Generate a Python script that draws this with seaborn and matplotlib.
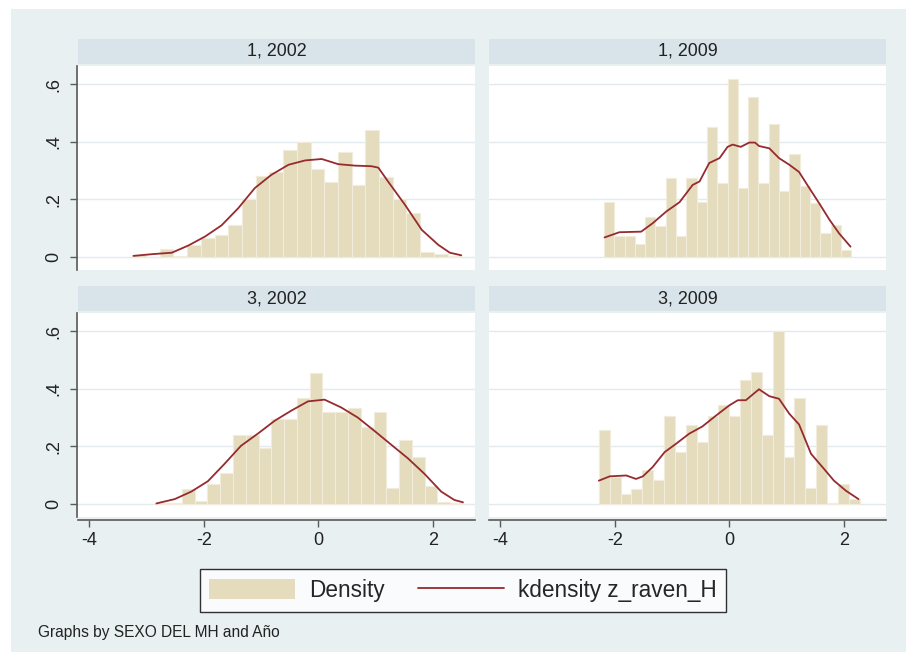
import numpy as np
import pandas as pd
import matplotlib
matplotlib.use("Agg")
import matplotlib.pyplot as plt
import seaborn as sns
from matplotlib.patches import Rectangle, Patch
from matplotlib.lines import Line2D

# ---------------- data ----------------
panel_titles = ["1, 2002", "1, 2009", "3, 2002", "3, 2009"]

# histogram bins: first edge and bin width per panel, densities per bin
tl_bin_start, tl_bin_width = -3.25, 0.2396
tl_heights = [0.007, 0.0, 0.028, 0.005, 0.040, 0.066, 0.078, 0.110, 0.202, 0.280,
              0.295, 0.370, 0.398, 0.307, 0.261, 0.363, 0.250, 0.439, 0.276, 0.200,
              0.151, 0.016, 0.009, 0.005]

tr_bin_start, tr_bin_width = -2.19, 0.18
tr_heights = [0.191, 0.073, 0.073, 0.045, 0.138, 0.109, 0.275, 0.073, 0.275, 0.190,
              0.452, 0.255, 0.617, 0.238, 0.554, 0.255, 0.460, 0.229, 0.357, 0.248,
              0.187, 0.082, 0.110, 0.024]

bl_bin_start, bl_bin_width = -2.83, 0.2233
bl_heights = [0.005, 0.004, 0.052, 0.012, 0.070, 0.106, 0.238, 0.238, 0.194, 0.295,
              0.295, 0.368, 0.456, 0.318, 0.318, 0.332, 0.266, 0.318, 0.055, 0.223,
              0.164, 0.062, 0.007, 0.005]

br_bin_start, br_bin_width = -2.28, 0.19
br_heights = [0.256, 0.093, 0.035, 0.052, 0.118, 0.084, 0.307, 0.180, 0.273, 0.215,
              0.307, 0.342, 0.307, 0.429, 0.458, 0.241, 0.601, 0.162, 0.369, 0.056,
              0.273, 0.005, 0.070, 0.017]

# kernel density curves
tl_kx = [-3.23, -2.9, -2.56, -2.27, -1.98, -1.69, -1.40, -1.11, -0.82, -0.52, -0.23,
         0.06, 0.35, 0.64, 0.93, 1.05, 1.22, 1.52, 1.81, 2.10, 2.30, 2.50]
tl_ky = [0.004, 0.010, 0.015, 0.040, 0.071, 0.110, 0.169, 0.239, 0.285, 0.320, 0.335,
         0.340, 0.322, 0.317, 0.315, 0.310, 0.262, 0.180, 0.094, 0.042, 0.015, 0.006]

tr_kx = [-2.18, -1.92, -1.54, -1.34, -1.10, -0.87, -0.64, -0.52, -0.35, -0.17, -0.03,
         0.06, 0.20, 0.35, 0.45, 0.52, 0.70, 0.87, 1.05, 1.22, 1.40, 1.57, 1.75, 1.92, 2.12]
tr_ky = [0.068, 0.086, 0.088, 0.117, 0.158, 0.190, 0.250, 0.262, 0.326, 0.343, 0.382,
         0.390, 0.382, 0.397, 0.397, 0.385, 0.377, 0.343, 0.320, 0.295, 0.239, 0.187,
         0.130, 0.082, 0.036]

bl_kx = [-2.83, -2.51, -2.22, -1.93, -1.64, -1.35, -1.05, -0.76, -0.47, -0.18, 0.11,
         0.40, 0.69, 0.98, 1.28, 1.57, 1.86, 2.15, 2.38, 2.53]
bl_ky = [0.002, 0.017, 0.043, 0.079, 0.139, 0.202, 0.245, 0.289, 0.324, 0.356, 0.362,
         0.335, 0.300, 0.254, 0.205, 0.158, 0.104, 0.043, 0.014, 0.006]

br_kx = [-2.28, -2.09, -1.80, -1.63, -1.51, -1.34, -1.13, -0.93, -0.70, -0.47, -0.23,
         0.0, 0.15, 0.29, 0.52, 0.70, 0.87, 1.05, 1.22, 1.43, 1.63, 1.83, 2.04, 2.26]
br_ky = [0.081, 0.096, 0.099, 0.087, 0.096, 0.128, 0.180, 0.209, 0.244, 0.269, 0.307,
         0.342, 0.360, 0.360, 0.398, 0.374, 0.365, 0.313, 0.276, 0.174, 0.128, 0.081,
         0.046, 0.017]

y_ticks = [0, 0.2, 0.4, 0.6]
y_ticklabels = ["0", ".2", ".4", ".6"]
x_ticks = [-4, -2, 0, 2]
x_ticklabels = ["-4", "-2", "0", "2"]

legend_labels = ["Density", "kdensity z_raven_H"]
note_text = "Graphs by SEXO DEL MH and Año"

# ---------------- style ----------------
sns.set_theme(style="white")
plt.rcParams["font.family"] = ["Liberation Sans", "DejaVu Sans"]

BG = "#e8f0f2"
STRIP = "#d8e4e9"
BAR = "#e4dcbd"
BAR_EDGE = "#f1ecdb"
LINE = "#962a2e"
GRID = "#e2eaed"
AXIS = "#5a5a5a"

W, H = 906, 660
fig = plt.figure(figsize=(W / 100, H / 100), dpi=100)
fig.patch.set_facecolor("white")


def box(x0, y0, x1, y1):
    return [x0 / W, 1 - y1 / H, (x1 - x0) / W, (y1 - y0) / H]


fig.patches.append(Rectangle((11 / W, 1 - 652 / H), (W - 11) / W, (652 - 9) / H,
                             transform=fig.transFigure, facecolor=BG,
                             edgecolor="none", zorder=-10))

panels = [
    (tl_bin_start, tl_bin_width, tl_heights, tl_kx, tl_ky),
    (tr_bin_start, tr_bin_width, tr_heights, tr_kx, tr_ky),
    (bl_bin_start, bl_bin_width, bl_heights, bl_kx, bl_ky),
    (br_bin_start, br_bin_width, br_heights, br_kx, br_ky),
]

col_x = [(78, 475), (489, 886)]
row_y = [((39, 64), (66, 270)), ((286, 311), (313, 517))]

for i, (bstart, bwidth, heights, kx, ky) in enumerate(panels):
    r, c = divmod(i, 2)
    x0, x1 = col_x[c]
    (sy0, sy1), (py0, py1) = row_y[r]

    # strip
    sax = fig.add_axes(box(x0, sy0, x1, sy1))
    sax.set_facecolor(STRIP)
    for s in sax.spines.values():
        s.set_visible(False)
    sax.set_xticks([])
    sax.set_yticks([])
    sax.text(0.5, 0.5, panel_titles[i], ha="center", va="center",
             fontsize=12.9, color="#222222", transform=sax.transAxes)

    ax = fig.add_axes(box(x0, py0, x1, py1))
    ax.set_facecolor("white")

    n = len(heights)
    edges = [float(bstart + bwidth * k) for k in range(n + 1)]
    centers = [(edges[k] + edges[k + 1]) / 2 for k in range(n)]
    df = pd.DataFrame({"z": centers, "w": heights})
    sns.histplot(data=df, x="z", weights="w", bins=edges, stat="count",
                 color=BAR, edgecolor=BAR_EDGE, linewidth=0.8, alpha=1.0, ax=ax,
                 zorder=2)
    kdf = pd.DataFrame({"x": kx, "y": ky})
    sns.lineplot(data=kdf, x="x", y="y", color=LINE, linewidth=1.3, ax=ax,
                 zorder=3, sort=True)

    ax.set_xlim(-4.2, 2.74)
    ax.set_ylim(-0.045, 0.6625)
    ax.set_xlabel("")
    ax.set_ylabel("")
    ax.set_yticks(y_ticks)
    for yv in y_ticks:
        ax.axhline(yv, color=GRID, lw=1.0, zorder=0)

    for s in ax.spines.values():
        s.set_visible(False)

    if c == 0:
        ax.spines["left"].set_visible(True)
        ax.spines["left"].set_color(AXIS)
        ax.spines["left"].set_linewidth(1.2)
        ax.spines["left"].set_position(("outward", 1))
        ax.set_yticklabels(y_ticklabels, rotation=90, va="center")
        ax.tick_params(axis="y", left=True, length=5, width=1, color=AXIS,
                       labelsize=13, pad=5, labelcolor="#222222")
    else:
        ax.tick_params(axis="y", left=False, labelleft=False)

    if r == 1:
        ax.spines["bottom"].set_visible(True)
        ax.spines["bottom"].set_color(AXIS)
        ax.spines["bottom"].set_linewidth(1.2)
        ax.spines["bottom"].set_position(("outward", 2))
        ax.set_xticks(x_ticks)
        ax.set_xticklabels(x_ticklabels)
        ax.tick_params(axis="x", bottom=True, length=5, width=1, color=AXIS,
                       labelsize=13, pad=4, labelcolor="#222222")
    else:
        ax.set_xticks([])
        ax.tick_params(axis="x", bottom=False, labelbottom=False)

handles = [Patch(facecolor=BAR, edgecolor="none", label=legend_labels[0]),
           Line2D([], [], color=LINE, lw=1.3, label=legend_labels[1])]
leg = fig.legend(handles=handles, loc="center", bbox_to_anchor=(463 / W, 1 - 590.5 / H),
                 ncol=2, frameon=True, fancybox=False, fontsize=16.3,
                 handlelength=3.8, handleheight=1.0, columnspacing=1.5,
                 handletextpad=0.6, borderpad=0.42)
leg.get_frame().set_edgecolor("black")
leg.get_frame().set_linewidth(1.0)
leg.get_frame().set_facecolor("white")

fig.text(38 / W, 1 - 632 / H, note_text, ha="left", va="center", fontsize=11.2,
         color="#222222")

fig.savefig("out.png", dpi=100, facecolor=fig.get_facecolor())
